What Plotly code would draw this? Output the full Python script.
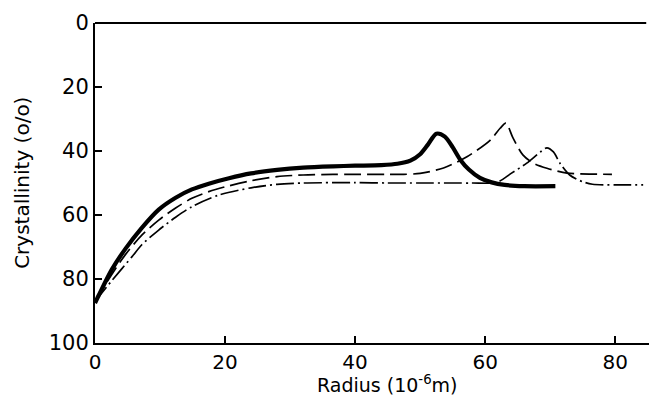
import plotly.graph_objects as go

# Solid (thick) curve
x_solid = [0, 0.6, 2.6, 4.7, 7.2, 9.8, 12.4, 14.9, 17.5, 20.6, 24, 28, 32, 36.6, 40, 44,
           46.5, 48.5, 50, 51.2, 52.5, 53.8, 55, 56.2, 57.5, 59.2, 61, 63, 66, 70.8]
y_solid = [87.5, 85, 77, 70.5, 64.0, 58.3, 54.6, 52.0, 50.2, 48.5, 47, 45.9, 45.2, 44.8, 44.6,
           44.4, 44.0, 43.0, 41, 38, 34.6, 35.5, 38.8, 42.8, 45.8, 48.4, 49.8, 50.6, 51, 51]

# Dashed curve
x_dash = [0, 2.6, 4.7, 7.2, 9.8, 12.4, 14.9, 17.5, 20, 24, 28, 32, 36.6, 40, 45, 47.5, 50,
          53.6, 57.2, 60.8, 62.3, 63.2, 64.3, 65.8, 67.4, 69.5, 72.6, 76, 79.5]
y_dash = [87, 78.5, 72.3, 66.3, 61.6, 57.8, 54.8, 52.7, 51.2, 49.3, 48, 47.5, 47.3, 47.3, 47.3,
          47.3, 47, 45.3, 41.8, 36.6, 32.9, 31.3, 36, 41.2, 43.8, 45.4, 46.9, 47.2, 47.3]

# Dash-dot curve
x_dd = [0, 2.6, 5.7, 7.2, 9.8, 12.4, 14.9, 19, 24, 28, 32, 36.6, 40, 45, 50, 55, 58, 61.8,
        64, 66.4, 68.5, 69.5, 70.5, 71.5, 73, 75, 76.5, 80, 84.3]
y_dd = [87, 80.5, 73, 69.3, 64.7, 60.7, 57.4, 53.8, 51.5, 50.4, 50, 49.9, 49.9, 50, 50, 50,
        50, 49.8, 47, 43.8, 40.3, 39, 40.3, 43.8, 47.5, 49.6, 50.4, 50.6, 50.6]

x_ticks = [0, 20, 40, 60, 80]
y_ticks = [0, 20, 40, 60, 80, 100]

fig = go.Figure()
fig.add_trace(go.Scatter(x=x_dd, y=y_dd, mode="lines",
                         line=dict(color="black", width=1.7, dash="18px,4px,2px,4px",
                                   shape="spline", smoothing=0.8)))
fig.add_trace(go.Scatter(x=x_dash, y=y_dash, mode="lines",
                         line=dict(color="black", width=1.7, dash="17px,6px",
                                   shape="spline", smoothing=0.8)))
fig.add_trace(go.Scatter(x=x_solid, y=y_solid, mode="lines",
                         line=dict(color="black", width=4.2, shape="spline", smoothing=0.8)))

font = "DejaVu Sans"
fig.update_layout(
    width=649, height=396,
    margin=dict(l=95, r=0, t=23, b=53),
    paper_bgcolor="white", plot_bgcolor="white",
    showlegend=False,
    font=dict(family=font, color="black", size=19),
    xaxis=dict(range=[0, 85.2], tickvals=x_ticks, ticks="inside", ticklen=7,
               tickwidth=1.5, tickcolor="black", showline=True, linecolor="black",
               linewidth=2, showgrid=False, zeroline=False,
               tickfont=dict(size=20, family=font)),
    yaxis=dict(range=[100, 0], tickvals=y_ticks, ticks="inside", ticklen=7,
               tickwidth=1.5, tickcolor="black", showline=True, linecolor="black",
               linewidth=2, showgrid=False, zeroline=False,
               tickfont=dict(size=21, family=font)),
    shapes=[dict(type="line", xref="paper", yref="paper", x0=0, x1=0.995, y0=1, y1=1,
                 line=dict(color="black", width=2))],
    annotations=[
        dict(text="Radius (10<sup>-6</sup>m)", x=45, xref="x", y=-0.128,
             yref="paper", yanchor="middle", showarrow=False,
             font=dict(size=19, family=font)),
        dict(text="Crystallinity (o/o)", x=-0.132, xref="paper", y=0.5, yref="paper",
             textangle=-90, xanchor="center", yanchor="middle", showarrow=False,
             font=dict(size=20, family=font)),
    ],
)

fig.write_html("out.html")
